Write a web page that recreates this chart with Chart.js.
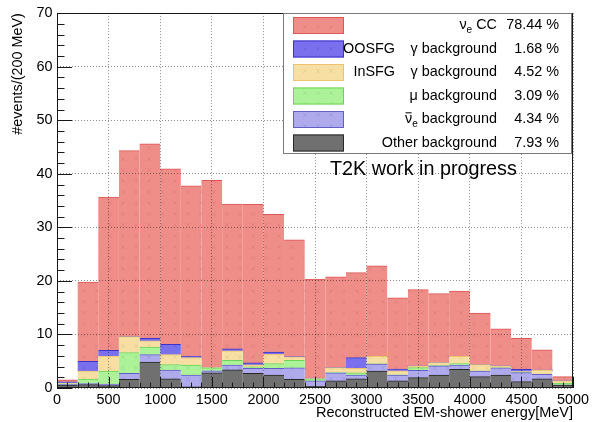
<!DOCTYPE html>
<html>
<head>
<meta charset="utf-8">
<script src="https://cdn.jsdelivr.net/npm/chart.js@4.4.1/dist/chart.umd.min.js"></script>
<style>
  html, body { margin: 0; padding: 0; background: #fff; }
  #wrap { width: 593px; height: 422px; }
</style>
</head>
<body>
<div id="wrap"><canvas id="energyChart" width="593" height="422"></canvas></div>
<script>
// bin centres (200 MeV bins) and axis ticks
const binCenters = [100, 300, 500, 700, 900, 1100, 1300, 1500, 1700, 1900, 2100, 2300, 2500,
                    2700, 2900, 3100, 3300, 3500, 3700, 3900, 4100, 4300, 4500, 4700, 4900];
const xTickValues = [0, 500, 1000, 1500, 2000, 2500, 3000, 3500, 4000, 4500, 5000];
const yTickValues = [0, 10, 20, 30, 40, 50, 60, 70];

// events per bin, one array per component (legend order)
const nueCC      = [0.4, 14.8, 28.6, 34.7, 36.3, 32.8, 31.8, 34.9, 27.0, 29.6, 25.7, 21.8, 18.5,
                    16.9, 15.9, 16.9, 13.3, 14.3, 12.9, 12.2, 9.6, 6.9, 5.8, 3.8, 0.8];
const oosfgGamma = [0.2, 1.84, 1.1, 0.05, 0.49, 1.9, 0.26, 0.05, 0.37, 0.36, 0.43, 0.05, 0.05,
                    0.05, 2.02, 0, 0.3, 0, 0, 0, 0, 0, 0.42, 0, 0];
const insfgGamma = [0.15, 1.47, 2.77, 3.0, 1.17, 1.85, 1.41, 0.05, 1.78, 0.37, 1.72, 0.62, 0.1,
                    0.92, 0.8, 1.42, 0.75, 0.25, 0.57, 1.35, 1.23, 0.37, 0.1, 0.75, 0.45];
const muBkg      = [0.1, 0.85, 2.45, 3.86, 1.4, 1.05, 1.83, 0.55, 0.92, 0.31, 0.92, 1.41, 0.35,
                    0.06, 0.43, 0.05, 0.05, 0.55, 0.05, 0.31, 0, 0, 0.05, 0.05, 0.3];
const nuebarBkg  = [0.15, 0.2, 0.3, 1.1, 1.4, 1.65, 2.2, 0.37, 0.86, 0.92, 1.22, 2.14, 1.0,
                    1.53, 0.73, 1.29, 1.1, 1.35, 1.7, 0.79, 1.03, 1.35, 1.7, 0.85, 0.05];
const otherBkg   = [0.5, 0.6, 0.4, 1.6, 4.8, 1.66, 0.2, 2.82, 3.37, 2.7, 2.4, 1.6, 0.3,
                    1.29, 1.66, 3.13, 1.29, 1.9, 2.4, 3.44, 2.1, 2.39, 1.17, 1.66, 0.5];

const legendPrefixes = ['', 'OOSFG', 'InSFG', '', '', ''];
const legendLabels   = ['ν_{e} CC', 'γ background', 'γ background', 'μ background',
                        '#bar{ν}_{e} background', 'Other background'];
const legendPercents = ['78.44 %', '1.68 %', '4.52 %', '3.09 %', '4.34 %', '7.93 %'];

const FONT = "'Liberation Sans', Arial, Helvetica, sans-serif";
Chart.defaults.font.family = FONT;
Chart.defaults.color = '#000';

const canvas = document.getElementById('energyChart');
const ctx = canvas.getContext('2d');

// ROOT-like fill: colour plus faint small crosses
function patternFill(rgb, mark) {
    const tile = document.createElement('canvas');
    tile.width = 13; tile.height = 11;
    const t = tile.getContext('2d');
    t.fillStyle = rgb;
    t.fillRect(0, 0, 13, 11);
    if (mark) {
        t.strokeStyle = mark;
        t.lineWidth = 1;
        t.beginPath();
        t.moveTo(4, 3); t.lineTo(8, 7);
        t.moveTo(8, 3); t.lineTo(4, 7);
        t.stroke();
    }
    return ctx.createPattern(tile, 'repeat');
}

const seriesData = [nueCC, oosfgGamma, insfgGamma, muBkg, nuebarBkg, otherBkg];
const fills = [
    patternFill('rgb(239,142,137)', 'rgba(150,60,60,0.12)'),
    patternFill('rgb(122,112,238)', 'rgba(40,40,120,0.12)'),
    patternFill('rgb(247,222,162)', 'rgba(120,100,40,0.10)'),
    patternFill('rgb(172,242,152)', 'rgba(40,120,40,0.10)'),
    patternFill('rgb(174,170,236)', 'rgba(40,40,120,0.10)'),
    'rgb(112,112,112)'
];
const borders = ['rgb(222,86,86)', 'rgb(60,50,200)', 'rgb(236,196,110)', 'rgb(110,210,90)',
                 'rgb(100,95,200)', 'rgb(40,40,40)'];

// stack from the bottom: datasets reversed relative to the legend
const datasets = [];
for (let i = seriesData.length - 1; i >= 0; i--) {
    datasets.push({
        label: legendLabels[i],
        data: seriesData[i].map((v, k) => ({ x: binCenters[k], y: v })),
        backgroundColor: fills[i],
        borderColor: borders[i],
        borderWidth: { top: 1, right: 0, bottom: 0, left: 0 },
        borderSkipped: false,
        inflateAmount: 0.5,
        barPercentage: 1,
        categoryPercentage: 1
    });
}

// draws "ν_{e} CC" / "#bar{ν}_{e}" style labels, right aligned
function richParts(text) {
    const parts = [];
    const re = /#bar\{([^}]*)\}|_\{([^}]*)\}|[^#_]+/g;
    let m;
    while ((m = re.exec(text)) !== null) {
        if (m[1] !== undefined) parts.push({ t: m[1], bar: true });
        else if (m[2] !== undefined) parts.push({ t: m[2], sub: true });
        else parts.push({ t: m[0] });
    }
    return parts;
}
function drawRich(c, text, rightX, y, size) {
    const parts = richParts(text);
    const fontOf = p => (p.sub ? size * 0.7 : size) + 'px ' + FONT;
    let w = 0;
    parts.forEach(p => { c.font = fontOf(p); w += c.measureText(p.t).width; });
    let x = rightX - w;
    c.textBaseline = 'middle';
    c.textAlign = 'left';
    parts.forEach(p => {
        c.font = fontOf(p);
        const pw = c.measureText(p.t).width;
        c.fillText(p.t, x, p.sub ? y + size * 0.32 : y);
        if (p.bar) {
            c.fillRect(x + 0.5, y - size * 0.5, pw - 1, 1);
        }
        x += pw;
    });
}

const rootFrame = {
    id: 'rootFrame',
    afterDatasetsDraw(chart) {
        const { ctx: c, chartArea: a, scales: { x, y } } = chart;
        c.save();
        c.strokeStyle = '#1a1a1a';
        c.lineWidth = 1;
        c.beginPath();
        for (let i = 0; i < xTickValues.length; i++) {
            const px = Math.round(x.getPixelForValue(xTickValues[i])) + 0.5;
            c.moveTo(px, a.bottom); c.lineTo(px, a.bottom - 11);
            if (i < xTickValues.length - 1) {
                const step = (xTickValues[i + 1] - xTickValues[i]) / 5;
                for (let k = 1; k < 5; k++) {
                    const mx = Math.round(x.getPixelForValue(xTickValues[i] + k * step)) + 0.5;
                    c.moveTo(mx, a.bottom); c.lineTo(mx, a.bottom - 5.5);
                }
            }
        }
        for (let i = 0; i < yTickValues.length; i++) {
            const py = Math.round(y.getPixelForValue(yTickValues[i])) + 0.5;
            c.moveTo(a.left, py); c.lineTo(a.left + 15, py);
            if (i < yTickValues.length - 1) {
                const step = (yTickValues[i + 1] - yTickValues[i]) / 5;
                for (let k = 1; k < 5; k++) {
                    const my = Math.round(y.getPixelForValue(yTickValues[i] + k * step)) + 0.5;
                    c.moveTo(a.left, my); c.lineTo(a.left + 7.5, my);
                }
            }
        }
        c.stroke();
        c.strokeRect(Math.round(a.left) + 0.5, Math.round(a.top) + 0.5,
                     Math.round(a.width) - 1, Math.round(a.height) - 1);
        c.restore();
    },
    afterDraw(chart) {
        const c = chart.ctx;
        const a = chart.chartArea;
        c.save();
        // legend box
        const bx = 283.5, by = Math.round(a.top) + 0.5, bw = 288, bh = 140;
        c.fillStyle = '#fff';
        c.fillRect(bx, by, bw, bh);
        c.strokeStyle = '#7a7a7a';
        c.lineWidth = 1;
        c.strokeRect(bx, by, bw, bh);
        const rowH = 23.5;
        for (let i = 0; i < legendLabels.length; i++) {
            const cy = by + 12 + i * rowH;
            c.fillStyle = fills[i];
            c.fillRect(293, cy - 8.5, 51, 17);
            c.strokeStyle = borders[i];
            c.strokeRect(293.5, cy - 8, 50, 16);
            c.fillStyle = '#000';
            if (legendPrefixes[i]) drawRich(c, legendPrefixes[i], 395, cy, 14.4);
            drawRich(c, legendLabels[i], 497, cy, 14.4);
            drawRich(c, legendPercents[i], 559, cy, 14.4);
        }
        c.fillStyle = '#000';
        c.font = '19.8px ' + FONT;
        c.textAlign = 'left';
        c.textBaseline = 'middle';
        c.fillText('T2K work in progress', 330, 170);
        c.restore();
    }
};

new Chart(ctx, {
    type: 'bar',
    data: { datasets: datasets },
    options: {
        responsive: false,
        animation: false,
        layout: { padding: { top: 12, right: 20, bottom: 0, left: 0 } },
        plugins: {
            legend: { display: false },
            tooltip: { enabled: false }
        },
        scales: {
            x: {
                type: 'linear',
                min: 0,
                max: 5000,
                stacked: true,
                offset: false,
                afterBuildTicks: s => { s.ticks = xTickValues.map(v => ({ value: v })); },
                afterFit: s => { s.height = 34; },
                grid: { offset: false, drawTicks: false, color: 'rgba(0,0,0,0.45)', lineWidth: 1, z: 1 },
                border: { display: false, dash: [1, 2] },
                ticks: {
                    font: { size: 14.4 }, padding: 3.5, maxRotation: 0, autoSkip: false,
                    callback: v => String(v)
                },
                title: {
                    display: true,
                    text: 'Reconstructed EM-shower energy[MeV]',
                    align: 'end',
                    font: { size: 14.5 },
                    padding: { top: 0, bottom: 0 }
                }
            },
            y: {
                min: 0,
                max: 70,
                stacked: true,
                afterBuildTicks: s => { s.ticks = yTickValues.map(v => ({ value: v })); },
                afterFit: s => { s.width = 57; },
                grid: { drawTicks: false, color: 'rgba(0,0,0,0.45)', lineWidth: 1, z: 1 },
                border: { display: false, dash: [1, 2] },
                ticks: { font: { size: 14.4 }, padding: 4.5, callback: v => String(v) },
                title: {
                    display: true,
                    text: '#events/(200 MeV)',
                    align: 'end',
                    font: { size: 14.4 },
                    padding: { top: 9.6, bottom: 0 }
                }
            }
        }
    },
    plugins: [rootFrame]
});
</script>
</body>
</html>
